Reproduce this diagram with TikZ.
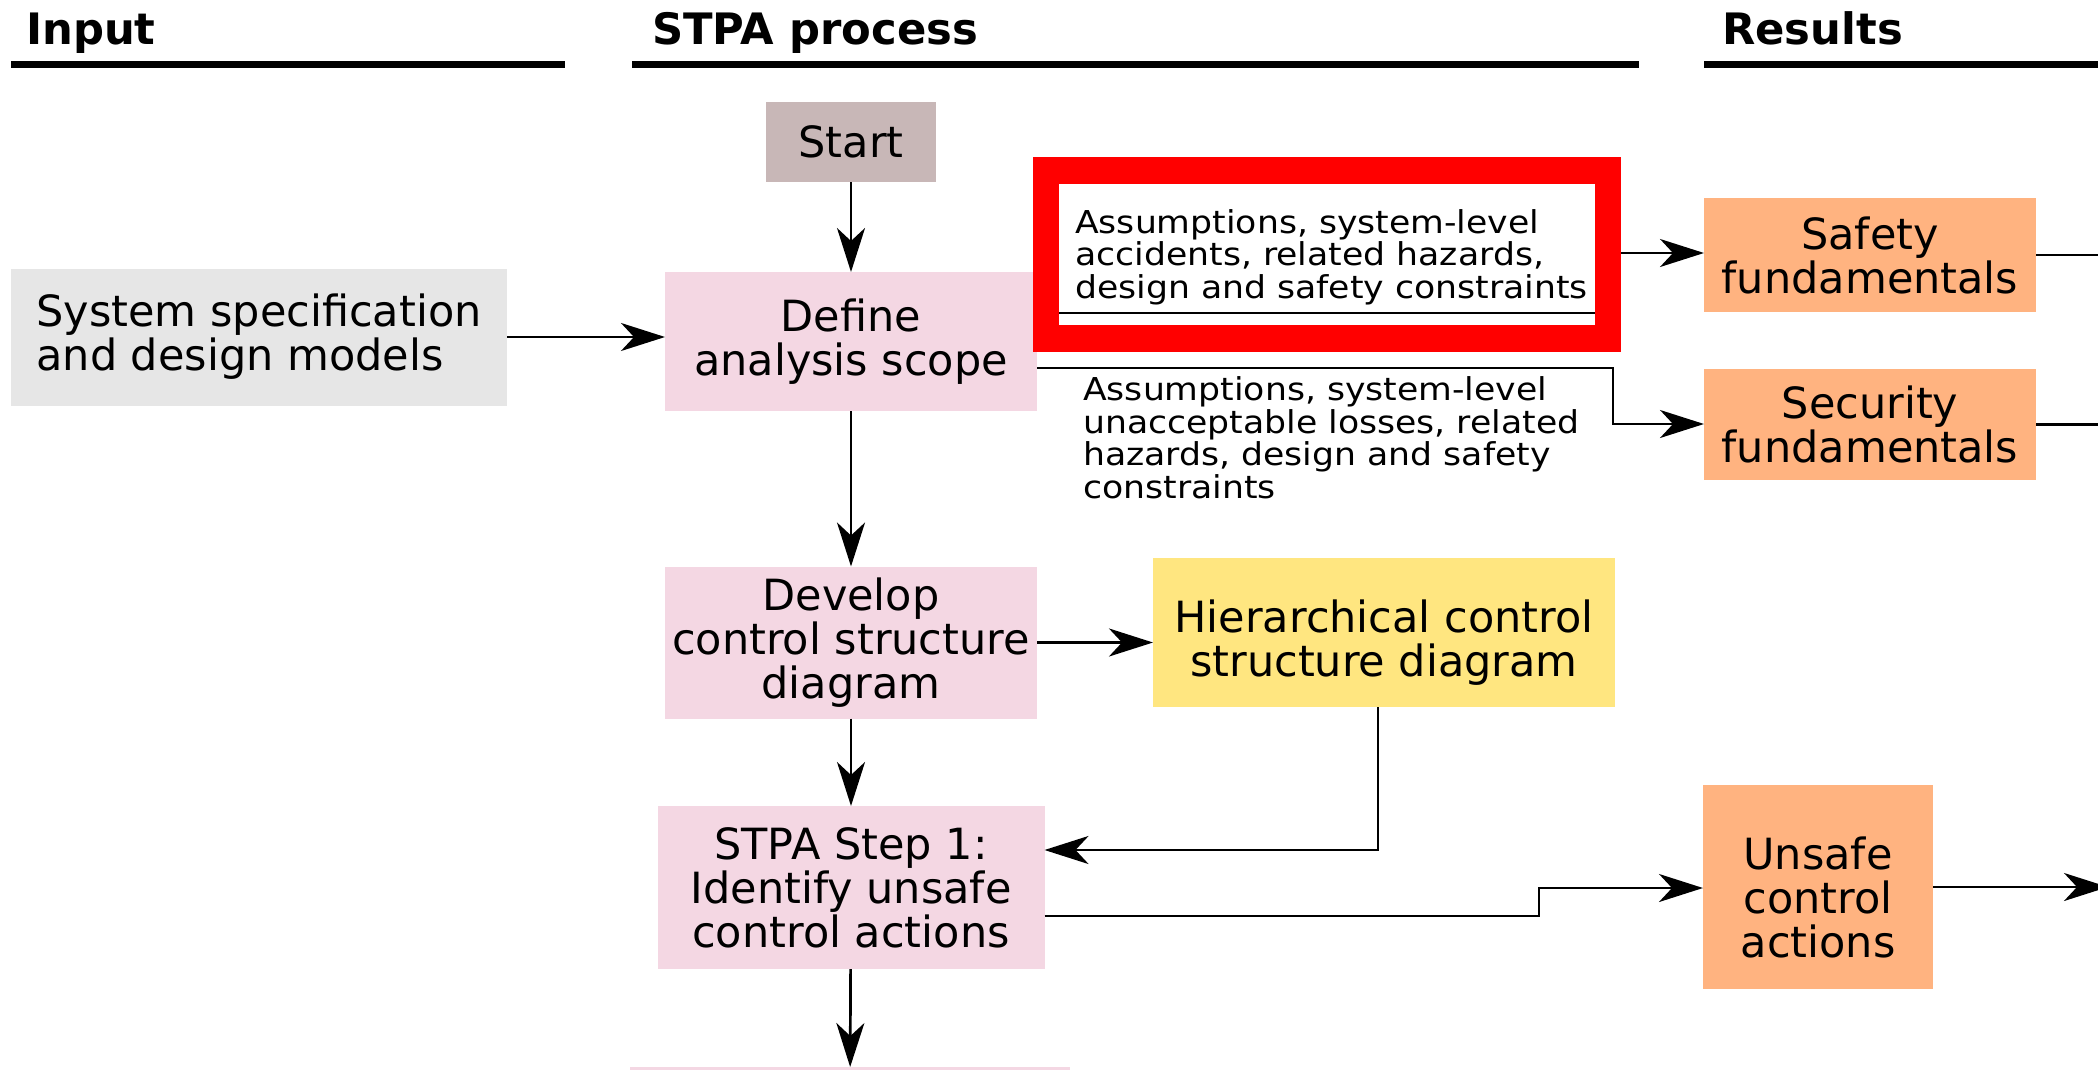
\documentclass[tikz,border=0pt]{standalone}
\usepackage{fontspec}
\setmainfont{DejaVu Sans}
\newfontfamily\labelfont[FakeStretch=1.1]{DejaVu Sans}
\usetikzlibrary{arrows.meta}

\definecolor{startfill}{HTML}{C8B7B7}
\definecolor{inputfill}{HTML}{E6E6E6}
\definecolor{stepfill}{HTML}{F4D7E3}
\definecolor{diagfill}{HTML}{FFE680}
\definecolor{resultfill}{HTML}{FFB380}
\definecolor{markred}{HTML}{FF0000}

\begin{document}
\begin{tikzpicture}[x=1pt,y=-1pt,
  box/.style={inner sep=0pt, outer sep=0pt, align=center,
    font=\fontsize{43}{44}\selectfont},
  boxtext/.style={inner sep=0pt, align=center,
    font=\fontsize{43}{44}\selectfont},
  stepbox/.style={box, fill=stepfill},
  resultbox/.style={box, fill=resultfill},
  heading/.style={inner sep=0pt, anchor=base west,
    font=\fontsize{43.3}{44}\bfseries\selectfont},
  rule/.style={line width=7pt},
  lbl/.style={inner sep=0pt, align=left, anchor=base west,
    font=\labelfont\fontsize{31.5}{32.5}\selectfont},
  conn/.style={line width=2.7pt,
    -{Stealth[length=44pt, width=28pt, inset=13pt]}}
]
\path[use as bounding box] (0,0) rectangle (2098,1070);
\clip (0,0) rectangle (2098,1070);

% column headings
\node[heading] (hin)  at (26,45)   {Input};
\node[heading] (hstp) at (652,45)  {STPA process};
\node[heading] (hres) at (1722,45) {Results};
\coordinate (r1a) at (11,64.5);   \coordinate (r1b) at (565,64.5);
\coordinate (r2a) at (632,64.5);  \coordinate (r2b) at (1639,64.5);
\coordinate (r3a) at (1704,64.5); \coordinate (r3b) at (2110,64.5);
\draw[rule] (r1a) -- (r1b);
\draw[rule] (r2a) -- (r2b);
\draw[rule] (r3a) -- (r3b);

% process boxes
\node[box, fill=startfill, minimum width=170pt, minimum height=80pt] (start) at (851,142) {Start};
\node[box, fill=inputfill, align=left, minimum width=496pt, minimum height=137pt] (spec) at (259,337)
  {System specification\\and design models};
\node[stepbox, minimum width=372pt, minimum height=139pt] (define) at (851,341.5)
  {Define\\analysis scope};
\node[stepbox, minimum width=372pt, minimum height=152pt] (develop) at (851,642.5)
  {Develop\\control structure\\diagram};
\node[box, fill=diagfill, minimum width=462pt, minimum height=149pt] (hier) at (1384,632.5) {};
\node[boxtext] (hiertext) at ([yshift=-10pt]hier.center)
  {Hierarchical control\\structure diagram};
\node[stepbox, minimum width=387pt, minimum height=163pt] (step1) at (851,887.5)
  {STPA Step 1:\\Identify unsafe\\control actions};
\node[stepbox, minimum width=440pt, minimum height=60pt, anchor=north] (step2) at (850,1067) {};

% result boxes
\node[resultbox, minimum width=332pt, minimum height=114pt] (safety) at (1870,255)
  {Safety\\fundamentals};
\node[resultbox, minimum width=332pt, minimum height=111pt] (security) at (1870,424.5)
  {Security\\fundamentals};
\node[resultbox, minimum width=230pt, minimum height=204pt] (unsafe) at (1818,887) {};
\node[boxtext] (unsafetext) at ([yshift=-10pt]unsafe.center)
  {Unsafe\\control\\actions};

% connectors
\draw[conn] (start) -- (define);
\draw[conn] (spec.east) -- (spec.east -| define.west);
\draw[conn] (define) -- (develop);
\draw[conn] (develop.east) -- (develop.east -| hier.west);
\draw[conn] (develop) -- (step1);
\draw[conn] (step1) -- (step2);

\coordinate (sa) at (1605,313);
\coordinate (sb) at (1605,253);
\draw[conn] (define.east |- sa) -- (sa) -- (sb) -- (sb -| safety.west);
\node[lbl] (lsafe) at (1075,298)
  {Assumptions, system-level\\accidents, related hazards,\\design and safety constraints};

\coordinate (ka) at (1613,368);
\coordinate (kb) at (1613,424);
\draw[conn] (define.east |- ka) -- (ka) -- (kb) -- (kb -| security.west);
\node[lbl] (lsec) at (1083,498)
  {Assumptions, system-level\\unacceptable losses, related\\hazards, design and safety\\constraints};

\coordinate (ha) at (1378,850);
\draw[conn] (hier.south -| ha) -- (ha) -- (ha -| step1.east);

\coordinate (ua) at (1539,916);
\coordinate (ub) at (1539,888);
\draw[conn] (step1.east |- ua) -- (ua) -- (ub) -- (ub -| unsafe.west);

% outgoing result lines
\coordinate (osafe) at (2200,255);
\coordinate (osec) at (2200,424.5);
\coordinate (ouns) at (2108,887);
\draw[conn] (safety) -- (osafe);
\draw[conn] (security) -- (osec);
\draw[conn] (unsafe) -- (ouns);

% highlight frame
\draw[markred, line width=26.5pt] (1046,170.5) rectangle (1608,338.5);
\end{tikzpicture}
\end{document}
